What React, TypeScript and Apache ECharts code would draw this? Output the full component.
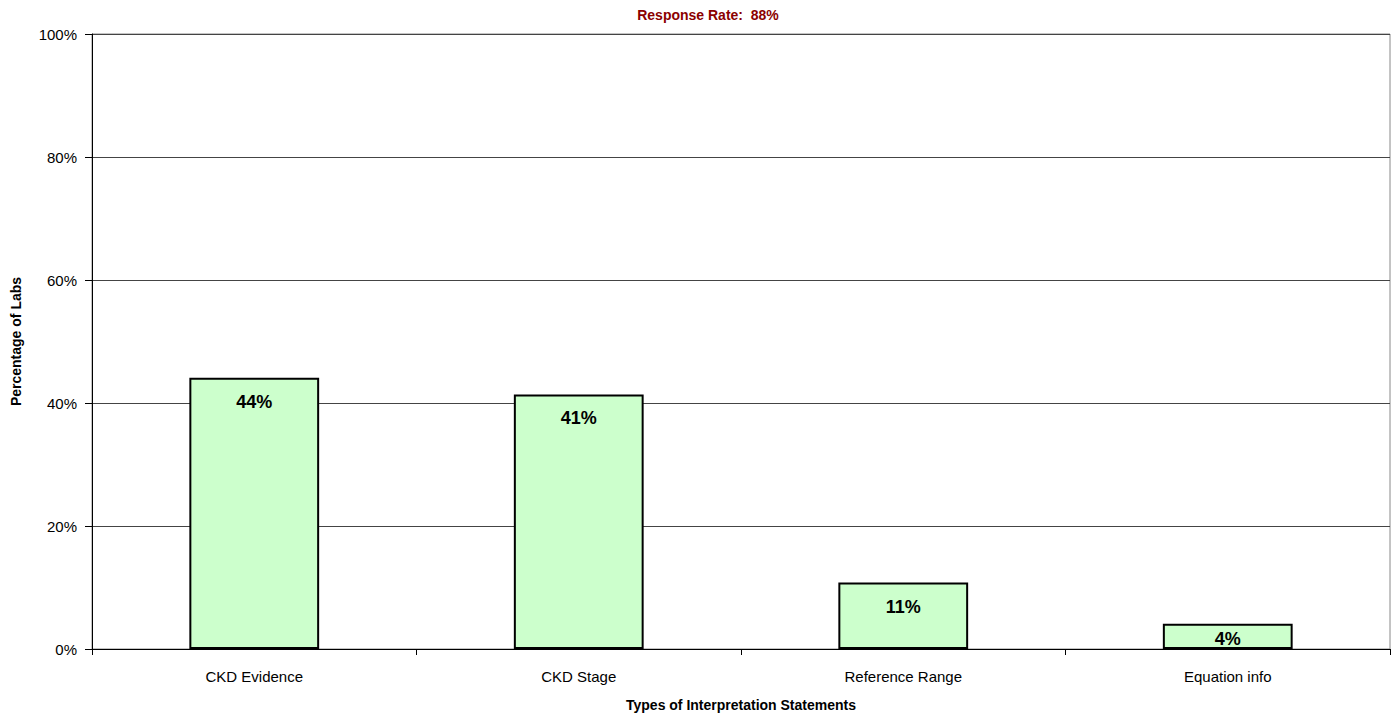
import React, { useEffect, useRef } from "react";
import * as echarts from "echarts";

const categories = ["CKD Evidence", "CKD Stage", "Reference Range", "Equation info"];
const values = [44.1, 41.4, 10.8, 4.1];
const labels = ["44%", "41%", "11%", "4%"];
const yTicks = [0, 20, 40, 60, 80, 100];

export default function App() {
  const ref = useRef<HTMLDivElement>(null);
  useEffect(() => {
    if (!ref.current) return;
    const chart = echarts.init(ref.current, null, { renderer: "svg" });
    const font = "'Liberation Sans', Arial, sans-serif";
    chart.setOption({
      animation: false,
      backgroundColor: "#fff",
      title: {
        text: "Response Rate:  88%",
        left: 703,
        textAlign: "center",
        top: 3,
        textStyle: { fontFamily: font, fontSize: 14, fontWeight: "bold", color: "#8B0000" },
      },
      grid: {
        left: 92,
        right: 7,
        top: 34,
        bottom: 66,
        outerBoundsMode: "none",
        containLabel: false,
        show: true,
        borderColor: "#888",
        borderWidth: 1,
        backgroundColor: "#fff",
      },
      xAxis: {
        type: "category",
        data: categories,
        name: "Types of Interpretation Statements",
        nameLocation: "middle",
        nameGap: 49,
        nameTextStyle: { fontFamily: font, fontSize: 14, fontWeight: "bold", color: "#000" },
        axisLine: { lineStyle: { color: "#000", width: 1 } },
        axisTick: { show: true, length: 6, lineStyle: { color: "#000" } },
        axisLabel: { fontFamily: font, fontSize: 15, color: "#000", margin: 20 },
      },
      yAxis: {
        type: "value",
        min: 0,
        max: 100,
        interval: 20,
        name: "Percentage of Labs",
        nameLocation: "middle",
        nameGap: 69,
        nameTextStyle: { fontFamily: font, fontSize: 14, fontWeight: "bold", color: "#000" },
        axisLine: { show: true, lineStyle: { color: "#000", width: 1 } },
        axisTick: { show: true, length: 7, lineStyle: { color: "#000" } },
        axisLabel: {
          fontFamily: font,
          fontSize: 15,
          color: "#000",
          margin: 15,
          formatter: (v: number) => (yTicks.includes(v) ? v + "%" : ""),
        },
        splitLine: { show: true, lineStyle: { color: "#444", width: 1 } },
      },
      series: [
        {
          type: "bar",
          barWidth: "40%",
          data: values.map((v, i) => ({
            value: v,
            label:
              i === 3
                ? { position: "insideTop", distance: 6 }
                : { position: "insideTop", distance: 15 },
          })),
          itemStyle: { color: "#CCFFCC", borderColor: "#000", borderWidth: 2 },
          label: {
            show: true,
            fontFamily: font,
            fontSize: 18,
            fontWeight: "bold",
            color: "#000",
            formatter: (p: any) => labels[p.dataIndex],
          },
        },
      ],
    });
    return () => chart.dispose();
  }, []);
  return <div ref={ref} style={{ width: 1397, height: 715, position: "absolute", left: 0, top: 0 }} />;
}
